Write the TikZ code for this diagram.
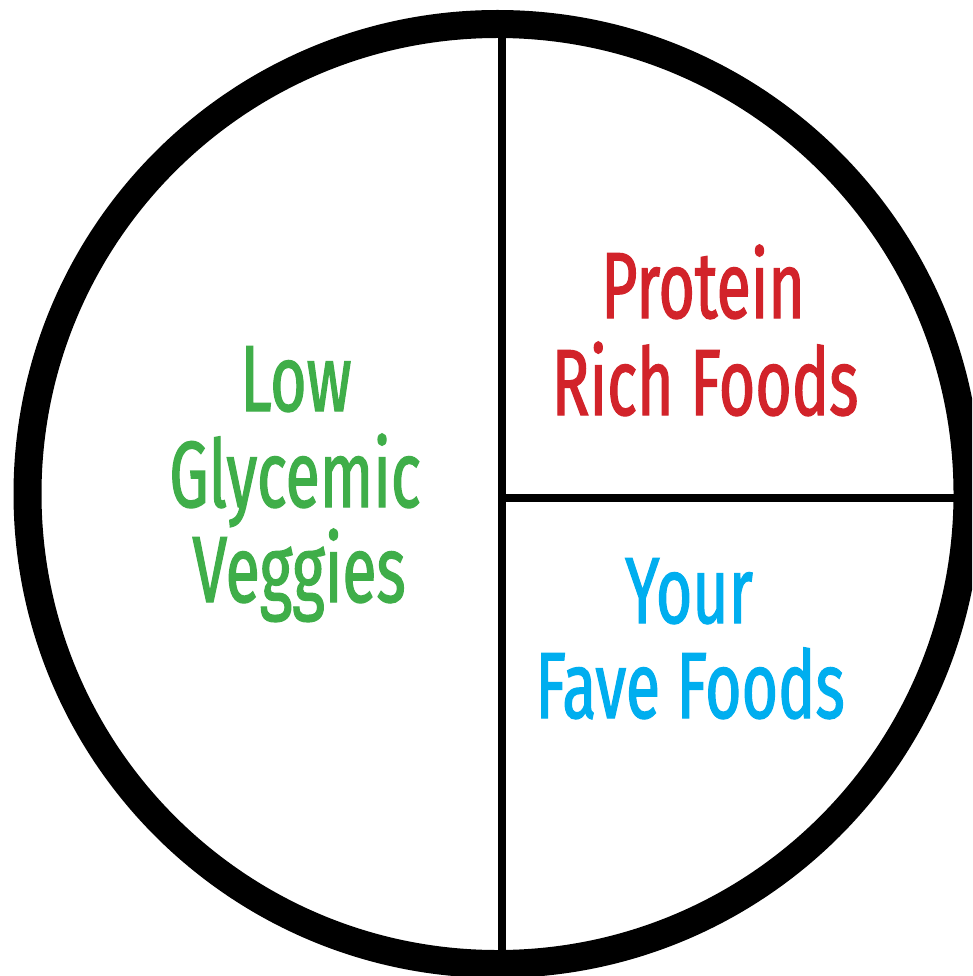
\documentclass[tikz,border=0pt]{standalone}
\usepackage{fontspec}
\setmainfont[FakeStretch=0.665,FakeBold=1.3]{Fira Sans}
\definecolor{vgreen}{HTML}{3FAE49}
\definecolor{pred}{HTML}{D2232A}
\definecolor{fblue}{HTML}{00AEEF}
\tikzset{
  lbl/.style={anchor=base, inner sep=0pt, font=\fontsize{94}{97}\selectfont},
  divider/.style={line width=8pt, black},
}
\begin{document}
\begin{tikzpicture}[x=1pt,y=-1pt]
\useasboundingbox (0,0) rectangle (972,976);
\clip (0,0) rectangle (972,976);
\fill[white] (0,0) rectangle (972,976);
\coordinate (vtop) at (502,30);
\coordinate (vbot) at (502,965);
\coordinate (hl) at (502,498);
\coordinate (hr) at (960,498);
\draw[divider] (vtop) -- (vbot);
\draw[divider] (hl) -- (hr);
\node[circle, draw, line width=28pt, minimum size=940pt, inner sep=0pt] (plate) at (497.5,494) {};
\node[lbl, text=vgreen] (g1) at (296,411) {Low};
\node[lbl, text=vgreen] (g2) at (295,507) {Glycemic};
\node[lbl, text=vgreen] (g3) at (299,602) {Veggies};
\node[lbl, text=pred] (r1) at (703,318) {Protein};
\node[lbl, text=pred] (r2) at (705,415) {Rich Foods};
\node[lbl, text=fblue] (b1) at (689,623) {Your};
\node[lbl, text=fblue] (b2) at (690,718) {Fave Foods};
\end{tikzpicture}
\end{document}
